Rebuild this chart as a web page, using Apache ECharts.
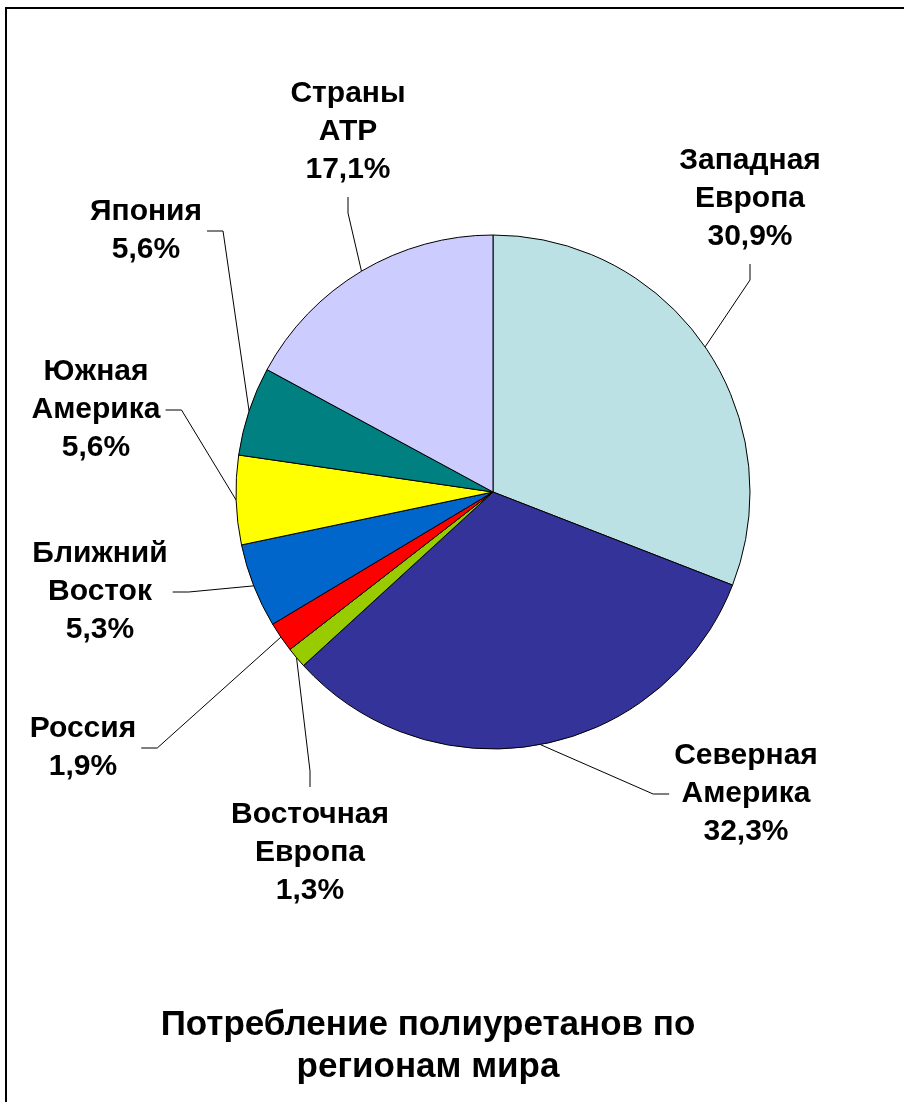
<!DOCTYPE html>
<html>
<head>
<meta charset="utf-8">
<script src="https://cdn.jsdelivr.net/npm/echarts@6/dist/echarts.min.js"></script>
<style>
    html, body { margin: 0; padding: 0; background: #fff; }
    #chart { width: 904px; height: 1102px; }
</style>
</head>
<body>
<div id="chart"></div>
<script>
// clockwise from 12 o'clock
const regions = ['Западная\nЕвропа', 'Северная\nАмерика', 'Восточная\nЕвропа', 'Россия',
    'Ближний\nВосток', 'Южная\nАмерика', 'Япония', 'Страны\nАТР'];
const shares = [30.9, 32.3, 1.3, 1.9, 5.3, 5.6, 5.6, 17.1];
const sliceColors = ['#BCE1E4', '#333399', '#99CC00', '#FF0000', '#0066CC', '#FFFF00', '#008080', '#CCCCFF'];
const chartTitle = 'Потребление полиуретанов по\nрегионам мира';

// where each label sits (centre) and which side its leader line leaves from
const labelSpots = [
    [750, 199, 'bottom'],
    [746, 794, 'left'],
    [310, 853, 'top'],
    [83, 748, 'right'],
    [100, 592, 'right'],
    [96, 410, 'right'],
    [146, 231, 'right'],
    [348, 132, 'bottom']
];

const fontFamily = '"Liberation Sans", Arial, sans-serif';

const pieData = regions.map((name, i) => ({
    name: name,
    value: shares[i],
    itemStyle: { color: sliceColors[i] }
}));

const chart = echarts.init(document.getElementById('chart'));

chart.setOption({
    animation: false,
    backgroundColor: '#fff',
    title: {
        text: chartTitle,
        left: 423,
        top: 999,
        textAlign: 'center',
        textStyle: {
            fontFamily: fontFamily,
            fontSize: 35,
            fontWeight: 'bold',
            lineHeight: 42,
            color: '#000'
        }
    },
    graphic: [{
        type: 'rect',
        shape: { x: 6, y: 8, width: 1000, height: 1200 },
        style: { fill: 'none', stroke: '#000', lineWidth: 2 },
        silent: true
    }],
    series: [{
        type: 'pie',
        center: [493, 492],
        radius: 257,
        startAngle: 90,
        clockwise: true,
        avoidLabelOverlap: false,
        data: pieData,
        itemStyle: { borderColor: '#000', borderWidth: 1 },
        emphasis: { disabled: true },
        label: {
            show: true,
            position: 'outside',
            formatter: (p) => p.name + '\n' + p.value.toFixed(1).replace('.', ',') + '%',
            fontFamily: fontFamily,
            fontSize: 30,
            fontWeight: 'bold',
            lineHeight: 38,
            color: '#000',
            align: 'center'
        },
        labelLine: {
            show: true,
            lineStyle: { color: '#000', width: 1 }
        },
        labelLayout: function (params) {
            const spot = labelSpots[params.dataIndex];
            const cx = spot[0], cy = spot[1];
            const w = params.labelRect.width, h = params.labelRect.height;
            const stub = 16;
            let anchor, elbow;
            if (spot[2] === 'bottom') {
                anchor = [cx, cy + h / 2 + 8];
                elbow = [cx, anchor[1] + stub];
            } else if (spot[2] === 'top') {
                anchor = [cx, cy - h / 2 - 9];
                elbow = [cx, anchor[1] - stub];
            } else if (spot[2] === 'left') {
                anchor = [cx - w / 2 - 5, cy];
                elbow = [anchor[0] - stub, cy];
            } else {
                anchor = [cx + w / 2 + 5, cy];
                elbow = [anchor[0] + stub, cy];
            }
            const edge = params.labelLinePoints ? params.labelLinePoints[0] : elbow;
            return {
                x: cx,
                y: cy,
                align: 'center',
                verticalAlign: 'middle',
                labelLinePoints: [edge, elbow, anchor]
            };
        }
    }]
});
</script>
</body>
</html>
